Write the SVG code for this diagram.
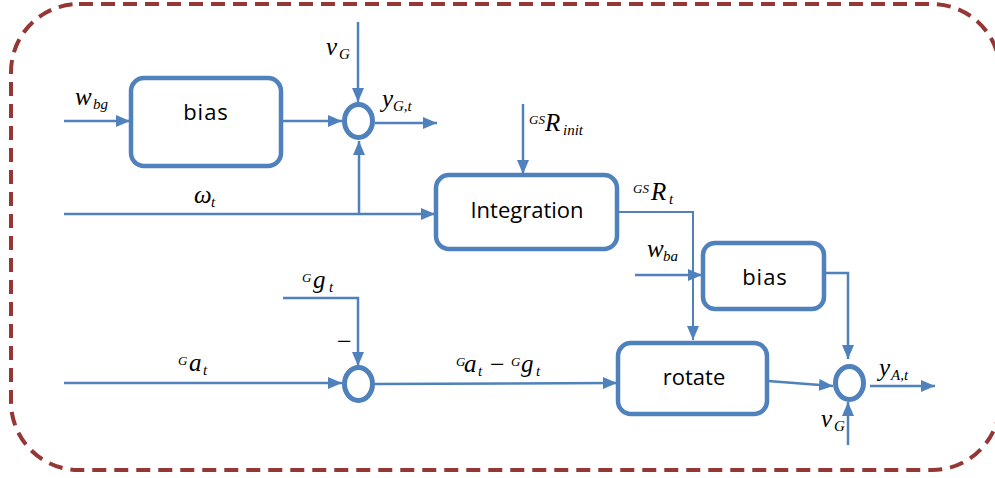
<svg xmlns="http://www.w3.org/2000/svg" width="995" height="478" viewBox="0 0 995 478">
<style>
.frame{fill:none;stroke:#953735;stroke-width:4;stroke-dasharray:14 8}
.box{fill:#fff;stroke:#4F81BD;stroke-width:4.5}
.sum{fill:#fff;stroke:#4F81BD;stroke-width:5}
.c{fill:none;stroke:#4F81BD;stroke-width:2.5}
.thin{fill:none;stroke:#4F81BD;stroke-width:2}
.lbl{font-family:"Open Sans","Liberation Sans",sans-serif;font-size:22px;fill:#000;text-anchor:middle}
.m{font-family:"Liberation Serif","DejaVu Serif",serif;font-style:italic;font-size:25px;fill:#000}
.s{font-family:"Liberation Serif","DejaVu Serif",serif;font-style:italic;font-size:15px;fill:#000}
.p{font-family:"Liberation Serif","DejaVu Serif",serif;font-style:italic;font-size:13px;fill:#000}
.op{font-family:"Liberation Serif","DejaVu Serif",serif;font-size:26px;fill:#000}
</style>
<defs>
<marker id="ah" markerUnits="userSpaceOnUse" markerWidth="14" markerHeight="12" refX="14" refY="6" orient="auto">
<path d="M0,0 L14,6 L0,12 z" fill="#4F81BD"/>
</marker>
</defs>

<rect class="frame" x="11" y="4" width="989" height="466" rx="68"/>

<g id="connectors">
<path class="c" d="M64,121 L130,121" marker-end="url(#ah)"/>
<path class="c" d="M282,121 L342,121" marker-end="url(#ah)"/>
<path class="c" d="M358,22 L358,102" marker-end="url(#ah)"/>
<path class="c" d="M375,123 L437,123" marker-end="url(#ah)"/>
<path class="c" d="M64,214 L435,214" marker-end="url(#ah)"/>
<path class="c" d="M359,214 L359,141" marker-end="url(#ah)"/>
<path class="c" d="M523,104 L523,174" marker-end="url(#ah)"/>
<path class="thin" d="M618,212 L693,212 L693,340" marker-end="url(#ah)"/>
<path class="c" d="M635,275 L702,275" marker-end="url(#ah)"/>
<path class="c" d="M825,273 L848,273 L848,359" marker-end="url(#ah)"/>
<path class="c" d="M64,383 L342,383" marker-end="url(#ah)"/>
<path class="c" d="M283,298 L358,298 L358,366" marker-end="url(#ah)"/>
<path class="c" d="M375,384 L617,383" marker-end="url(#ah)"/>
<path class="c" d="M768,381 L833,386" marker-end="url(#ah)"/>
<path class="c" d="M870,386 L935,386" marker-end="url(#ah)"/>
<path class="c" d="M848,445 L848,402" marker-end="url(#ah)"/>
</g>

<g id="bias1">
<rect class="box" x="131" y="78" width="150" height="88" rx="13"/>
<text class="lbl" x="206" y="120" letter-spacing="1">bias</text>
</g>
<g id="sum1">
<ellipse class="sum" cx="358.5" cy="121" rx="14" ry="16.5"/>
</g>
<g id="integration">
<rect class="box" x="436" y="175" width="181" height="74" rx="13"/>
<text class="lbl" x="527" y="218">Integration</text>
</g>
<g id="bias2">
<rect class="box" x="703" y="243" width="121" height="66" rx="12"/>
<text class="lbl" x="765" y="285" letter-spacing="1">bias</text>
</g>
<g id="rotate">
<rect class="box" x="618" y="343" width="149" height="71" rx="13"/>
<text class="lbl" x="694" y="385">rotate</text>
</g>
<g id="sum2">
<ellipse class="sum" cx="358.5" cy="384" rx="14" ry="16.5"/>
</g>
<g id="sum3">
<ellipse class="sum" cx="849.5" cy="383" rx="14" ry="16.5"/>
</g>

<g id="labels">
<text class="m" x="75" y="105">w</text><text class="s" x="93" y="109">bg</text>
<text class="m" x="326" y="55">v</text><text class="s" x="339" y="59">G</text>
<text class="m" x="382" y="107">y</text><text class="s" x="393" y="111">G,t</text>
<text class="m" x="194" y="203">ω</text><text class="s" x="211" y="207">t</text>
<text class="p" x="529" y="124">GS</text><text class="m" x="545" y="131">R</text><text class="s" x="563" y="135">init</text>
<text class="p" x="633" y="193">GS</text><text class="m" x="651" y="200">R</text><text class="s" x="669" y="204">t</text>
<text class="m" x="647" y="257">w</text><text class="s" x="663" y="261">ba</text>
<text class="p" x="302" y="282">G</text><text class="m" x="313" y="288">g</text><text class="s" x="329" y="292">t</text>
<text class="op" x="337" y="350">−</text>
<text class="p" x="178" y="365">G</text><text class="m" x="189" y="371">a</text><text class="s" x="203" y="375">t</text>
<text class="p" x="456" y="366">G</text><text class="m" x="464" y="372">a</text><text class="s" x="478" y="376">t</text>
<text class="op" x="490" y="373">−</text>
<text class="p" x="511" y="366">G</text><text class="m" x="521" y="372">g</text><text class="s" x="536" y="376">t</text>
<text class="m" x="879" y="376">y</text><text class="s" x="891" y="380">A,t</text>
<text class="m" x="821" y="427">v</text><text class="s" x="834" y="431">G</text>
</g>
</svg>
